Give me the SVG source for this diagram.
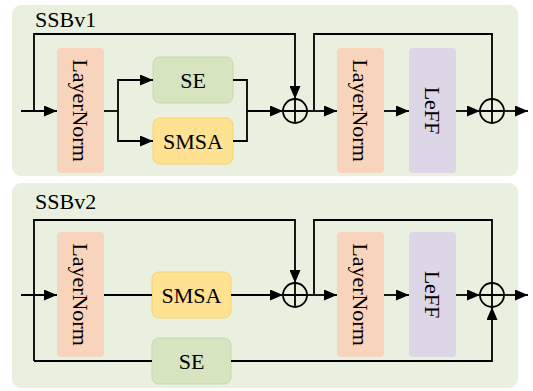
<svg xmlns="http://www.w3.org/2000/svg" width="533" height="391" viewBox="0 0 533 391">
<defs>
<marker id="ah" markerUnits="userSpaceOnUse" markerWidth="13" markerHeight="11" refX="13" refY="5.5" orient="auto" viewBox="0 0 13 11">
<path d="M0,0 L13,5.5 L0,11 z" fill="#000"/>
</marker>
<style>
.panel{fill:#e9f0df;}
.ln{fill:#f8d4bc;}
.se{fill:#d6e4c0;stroke:#c6d9ab;stroke-width:1;}
.smsa{fill:#ffe192;stroke:#f7d46c;stroke-width:1;}
.leff{fill:#ddd6e6;}
.w{fill:none;stroke:#000;stroke-width:1.8;}
.a{marker-end:url(#ah);}
.t{font-family:"Liberation Serif","Times New Roman",serif;font-size:22px;fill:#000;}
.c{text-anchor:middle;dominant-baseline:central;}
</style>
</defs>
<rect class="panel" x="12" y="5" width="506" height="171" rx="9"/>
<rect class="panel" x="12" y="183" width="506" height="205" rx="9"/>
<text class="t" x="35" y="27">SSBv1</text>
<text class="t" x="35" y="209">SSBv2</text>

<g id="v1-ln1"><rect class="ln" x="57" y="48" width="47" height="125" rx="4"/><text class="t c" transform="translate(80.5,110.5) rotate(90)">LayerNorm</text></g>
<g id="v1-se"><rect class="se" x="153" y="57" width="80" height="46" rx="7"/><text class="t c" x="193" y="80">SE</text></g>
<g id="v1-smsa"><rect class="smsa" x="153" y="118" width="80" height="46" rx="7"/><text class="t c" x="193" y="141">SMSA</text></g>
<g id="v1-ln2"><rect class="ln" x="337" y="48" width="47" height="125" rx="4"/><text class="t c" transform="translate(360.5,110.5) rotate(90)">LayerNorm</text></g>
<g id="v1-leff"><rect class="leff" x="409" y="48" width="47" height="125" rx="4"/><text class="t c" transform="translate(432.5,110.5) rotate(90)">LeFF</text></g>
<g id="v1-add1"><circle class="w" cx="295" cy="111" r="12"/><path class="w" d="M283,111 H307 M295,99 V123"/></g>
<g id="v1-add2"><circle class="w" cx="492" cy="111" r="12"/><path class="w" d="M480,111 H504 M492,99 V123"/></g>

<g id="v2-ln1"><rect class="ln" x="57" y="232" width="47" height="125" rx="4"/><text class="t c" transform="translate(80.5,294.5) rotate(90)">LayerNorm</text></g>
<g id="v2-smsa"><rect class="smsa" x="152" y="272" width="79" height="46" rx="7"/><text class="t c" x="191.5" y="295">SMSA</text></g>
<g id="v2-se"><rect class="se" x="152" y="338" width="79" height="46" rx="7"/><text class="t c" x="191.5" y="361">SE</text></g>
<g id="v2-ln2"><rect class="ln" x="337" y="232" width="47" height="125" rx="4"/><text class="t c" transform="translate(360.5,294.5) rotate(90)">LayerNorm</text></g>
<g id="v2-leff"><rect class="leff" x="409" y="232" width="47" height="125" rx="4"/><text class="t c" transform="translate(432.5,294.5) rotate(90)">LeFF</text></g>
<g id="v2-add1"><circle class="w" cx="295" cy="295" r="12"/><path class="w" d="M283,295 H307 M295,283 V307"/></g>
<g id="v2-add2"><circle class="w" cx="492" cy="295" r="12"/><path class="w" d="M480,295 H504 M492,283 V307"/></g>

<g id="connectors">
<path class="w a" d="M21,111 H57"/>
<path class="w a" d="M34,111 V34 H295 V99"/>
<path class="w" d="M104,111 H118"/>
<path class="w a" d="M118,111 V80 H153"/>
<path class="w a" d="M118,111 V141 H153"/>
<path class="w" d="M233,80 H247 V141 H233"/>
<path class="w a" d="M247,111 H283"/>
<path class="w a" d="M307,111 H337"/>
<path class="w" d="M314,111 V34 H492 V99"/>
<path class="w a" d="M384,111 H409"/>
<path class="w a" d="M456,111 H480"/>
<path class="w a" d="M504,111 H528"/>

<path class="w a" d="M21,295 H57"/>
<path class="w a" d="M34,361 V220 H295 V283"/>
<path class="w" d="M34,361 H152"/>
<path class="w" d="M104,295 H152"/>
<path class="w a" d="M231,295 H283"/>
<path class="w a" d="M307,295 H337"/>
<path class="w" d="M314,295 V220 H492 V283"/>
<path class="w a" d="M384,295 H409"/>
<path class="w a" d="M456,295 H480"/>
<path class="w a" d="M504,295 H528"/>
<path class="w a" d="M231,361 H492 V307"/>
</g>
</svg>
